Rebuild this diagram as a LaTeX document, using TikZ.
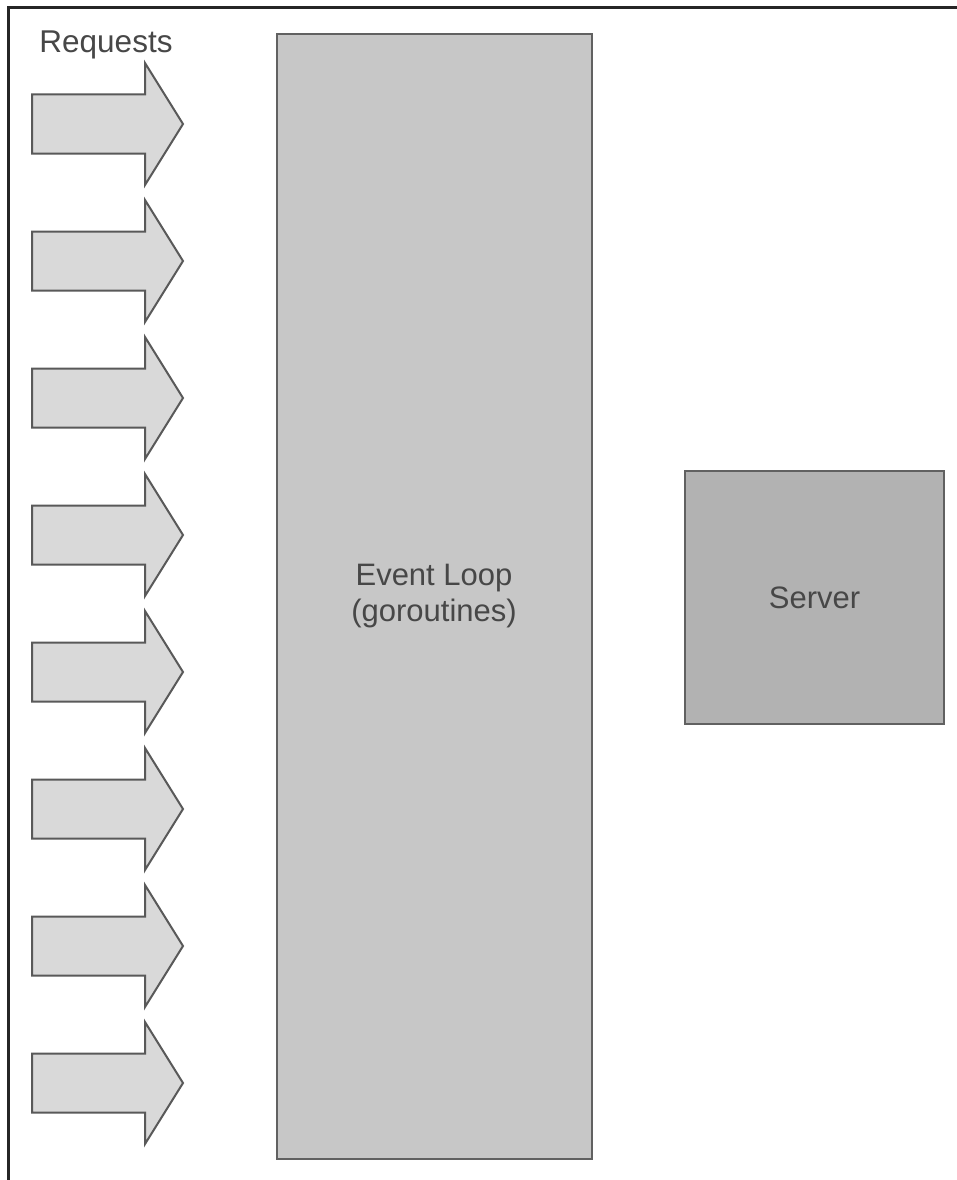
\documentclass[tikz,border=0pt]{standalone}
\usepackage{fontspec}
\setmainfont{Liberation Sans}
\begin{document}
\begin{tikzpicture}[x=1pt,y=-1pt,
  every node/.style={font=\fontsize{31}{36}\selectfont, text=black!72},
  reqarrow/.style={draw=black!65, line width=2pt, fill=black!15, line join=miter},
  loopbox/.style={draw=black!62, line width=2.2pt, fill=black!22},
  serverbox/.style={draw=black!62, line width=2.2pt, fill=black!30},
  frameline/.style={draw=black!85, line width=3pt}]
\useasboundingbox (0,0) rectangle (957,1180);
\fill[white] (0,0) rectangle (957,1180);
\draw[frameline] (8,1180) -- (8,8) -- (957,8);
\node[anchor=center, font=\fontsize{31.5}{36}\selectfont] (req) at (106,45) {Requests};
\foreach \i in {0,...,7}{
  \pgfmathsetmacro{\cy}{124+137*\i}
  \draw[reqarrow] (32,\cy-29.5) -- (145,\cy-29.5) -- (145,\cy-61) -- (183,\cy) -- (145,\cy+61) -- (145,\cy+29.5) -- (32,\cy+29.5) -- cycle;
}
\node[loopbox, minimum width=315, minimum height=1125, inner sep=0pt, anchor=north west] (loop) at (276,33) {};
\node[align=center] (looptext) at (434,596) {Event Loop\\(goroutines)};
\node[serverbox, minimum width=259, minimum height=253, inner sep=0pt, anchor=north west] (server) at (684,470) {};
\node (servertext) at (server.center) {Server};
\end{tikzpicture}
\end{document}
